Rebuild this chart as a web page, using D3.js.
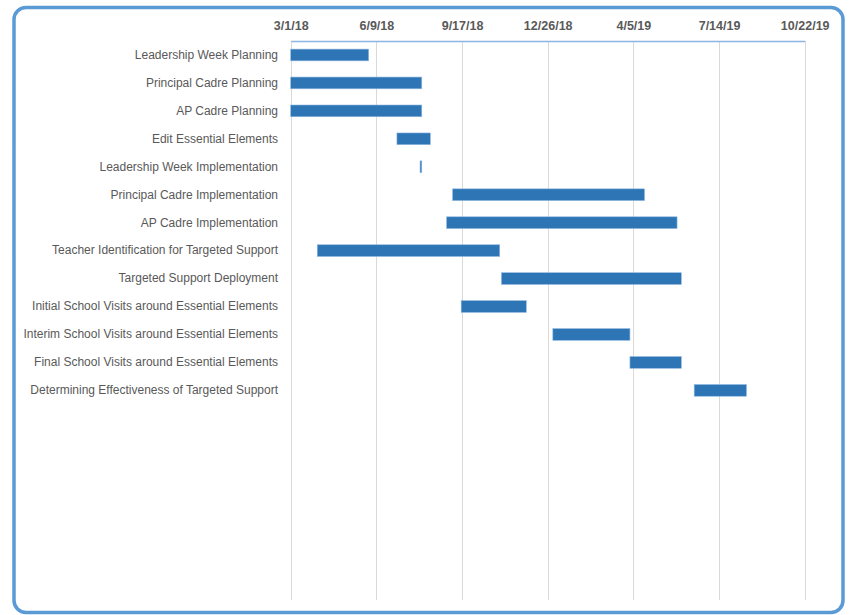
<!DOCTYPE html>
<html>
<head>
<meta charset="utf-8">
<script src="https://cdn.jsdelivr.net/npm/d3@7"></script>
<style>
  html, body { margin: 0; padding: 0; background: #ffffff; }
  svg { display: block; }
  text { font-family: "Liberation Sans", Arial, sans-serif; }
</style>
</head>
<body>
<svg id="chart" width="849" height="615"></svg>
<script>
// Project tasks, top to bottom; blank slots keep the empty rows below the last task.
const tasks = [
  "Leadership Week Planning",
  "Principal Cadre Planning",
  "AP Cadre Planning",
  "Edit Essential Elements",
  "Leadership Week Implementation",
  "Principal Cadre Implementation",
  "AP Cadre Implementation",
  "Teacher Identification for Targeted Support",
  "Targeted Support Deployment",
  "Initial School Visits around Essential Elements",
  "Interim School Visits around Essential Elements",
  "Final School Visits around Essential Elements",
  "Determining Effectiveness of Targeted Support"
];
const blankRows = 7;

// Start and end dates for each task (same order as tasks)
const startDates = [
  "2018-03-01", "2018-03-01", "2018-03-01", "2018-07-03", "2018-07-30",
  "2018-09-06", "2018-08-30", "2018-04-01", "2018-11-02", "2018-09-16",
  "2019-01-01", "2019-04-01", "2019-06-15"
];
const endDates = [
  "2018-05-31", "2018-08-01", "2018-08-01", "2018-08-11", "2018-08-01",
  "2019-04-18", "2019-05-26", "2018-10-31", "2019-05-31", "2018-12-01",
  "2019-04-01", "2019-05-31", "2019-08-15"
];

// Axis ticks, every 100 days
const tickLabels = ["3/1/18", "6/9/18", "9/17/18", "12/26/18", "4/5/19", "7/14/19", "10/22/19"];

const parse = d3.utcParse("%Y-%m-%d");
const parseTick = d3.utcParse("%m/%d/%y");
const fmtTick = d => `${d.getUTCMonth() + 1}/${d.getUTCDate()}/${String(d.getUTCFullYear()).slice(2)}`;

const rows = tasks.map((t, i) => ({ name: t, start: parse(startDates[i]), end: parse(endDates[i]) }));
const slots = tasks.concat(d3.range(blankRows).map(i => "__blank" + i));
const ticks = tickLabels.map(parseTick);

const svg = d3.select("#chart");

// Rounded chart frame
svg.append("rect")
  .attr("x", 14).attr("y", 7.5)
  .attr("width", 829).attr("height", 605)
  .attr("rx", 12).attr("ry", 12)
  .attr("fill", "#ffffff")
  .attr("stroke", "#5b9bd5")
  .attr("stroke-width", 3.5);

const plot = { left: 290.7, right: 804.7, top: 41, bottom: 600 };

const x = d3.scaleUtc()
  .domain([ticks[0], ticks[ticks.length - 1]])
  .range([plot.left, plot.right]);

const y = d3.scaleBand()
  .domain(slots)
  .range([plot.top, plot.bottom])
  .paddingInner(0.58)
  .paddingOuter(0.29);

// Vertical gridlines
svg.append("g")
  .selectAll("line")
  .data(ticks)
  .join("line")
  .attr("x1", d => Math.round(x(d)) + 0.5)
  .attr("x2", d => Math.round(x(d)) + 0.5)
  .attr("y1", plot.top)
  .attr("y2", plot.bottom)
  .attr("stroke", "#d9d9d9")
  .attr("stroke-width", 1);

// Top date axis
const axis = d3.axisTop(x)
  .tickValues(ticks)
  .tickFormat(fmtTick)
  .tickSize(0)
  .tickPadding(11);

const gAxis = svg.append("g")
  .attr("transform", `translate(0,${plot.top})`)
  .call(axis);
gAxis.select(".domain")
  .attr("stroke", "#8db4e2")
  .attr("stroke-width", 1.5);
gAxis.selectAll("text")
  .attr("fill", "#595959")
  .style("font-size", "12.5px")
  .style("font-weight", "bold");

// Task labels
svg.append("g")
  .selectAll("text")
  .data(rows)
  .join("text")
  .attr("x", 278)
  .attr("y", d => y(d.name) + y.bandwidth() / 2)
  .attr("dy", "0.32em")
  .attr("text-anchor", "end")
  .attr("fill", "#595959")
  .style("font-size", "12px")
  .text(d => d.name);

// Task bars
svg.append("g")
  .selectAll("rect")
  .data(rows)
  .join("rect")
  .attr("x", d => x(d.start))
  .attr("y", d => y(d.name))
  .attr("width", d => Math.max(1, x(d.end) - x(d.start)))
  .attr("height", y.bandwidth())
  .attr("fill", "#2e75b6")
  .attr("stroke", "#8fb8e0")
  .attr("stroke-width", 0.6);
</script>
</body>
</html>
